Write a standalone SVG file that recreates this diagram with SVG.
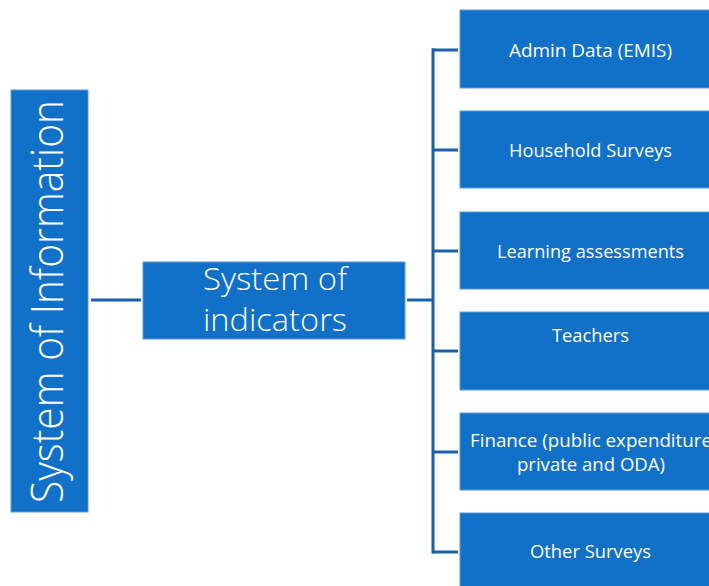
<svg xmlns="http://www.w3.org/2000/svg" width="709" height="586" viewBox="0 0 709 586">
<style>
.box{fill:#1170c8;stroke:#5a9ad8;stroke-width:1}
.t{fill:#ffffff;font-family:"Open Sans","Noto Sans","Liberation Sans",sans-serif;text-anchor:middle}
.s{font-size:18px}
.m{font-size:32px;font-weight:300}
.l{font-size:44px;font-weight:300}
.c{fill:none;stroke:#1a5fa8;stroke-width:3}
</style>
<rect width="709" height="586" fill="#ffffff"/>
<g id="connectors">
<line class="c" x1="91" y1="300" x2="141" y2="300"/>
<line class="c" x1="407" y1="300" x2="433" y2="300"/>
<line class="c" x1="433" y1="48.5" x2="433" y2="553.5"/>
<line class="c" x1="432" y1="50" x2="458" y2="50"/>
<line class="c" x1="432" y1="150" x2="458" y2="150"/>
<line class="c" x1="432" y1="251" x2="458" y2="251"/>
<line class="c" x1="432" y1="351" x2="458" y2="351"/>
<line class="c" x1="432" y1="452" x2="458" y2="452"/>
<line class="c" x1="432" y1="552" x2="458" y2="552"/>
</g>
<g id="system-of-information">
<rect class="box" x="11" y="90" width="77" height="422"/>
<text class="t l" transform="translate(63,301.5) rotate(-90)" x="0" y="0" textLength="403" lengthAdjust="spacingAndGlyphs">System of Information</text>
</g>
<g id="system-of-indicators">
<rect class="box" x="143" y="262" width="262" height="77"/>
<text class="t m" x="275" y="290" textLength="144" lengthAdjust="spacingAndGlyphs">System of</text>
<text class="t m" x="275" y="331" textLength="144" lengthAdjust="spacingAndGlyphs">indicators</text>
</g>
<g id="admin-data">
<rect class="box" x="460" y="10" width="260" height="78"/>
<text class="t s" x="590.5" y="57" textLength="163" lengthAdjust="spacingAndGlyphs">Admin Data (EMIS)</text>
</g>
<g id="household-surveys">
<rect class="box" x="460" y="111" width="260" height="77"/>
<text class="t s" x="590.5" y="157" textLength="163" lengthAdjust="spacingAndGlyphs">Household Surveys</text>
</g>
<g id="learning-assessments">
<rect class="box" x="460" y="212" width="260" height="77"/>
<text class="t s" x="590.5" y="258" textLength="187" lengthAdjust="spacingAndGlyphs">Learning assessments</text>
</g>
<g id="teachers">
<rect class="box" x="460" y="312" width="260" height="78"/>
<text class="t s" x="590.5" y="342" textLength="77" lengthAdjust="spacingAndGlyphs">Teachers</text>
</g>
<g id="finance">
<rect class="box" x="460" y="413" width="260" height="77"/>
<text class="t s" x="591" y="447" textLength="242" lengthAdjust="spacingAndGlyphs">Finance (public expenditure</text>
<text class="t s" x="591" y="471" textLength="148" lengthAdjust="spacingAndGlyphs">private and ODA)</text>
</g>
<g id="other-surveys">
<rect class="box" x="460" y="513" width="260" height="78"/>
<text class="t s" x="590.5" y="558" textLength="121" lengthAdjust="spacingAndGlyphs">Other Surveys</text>
</g>
</svg>
